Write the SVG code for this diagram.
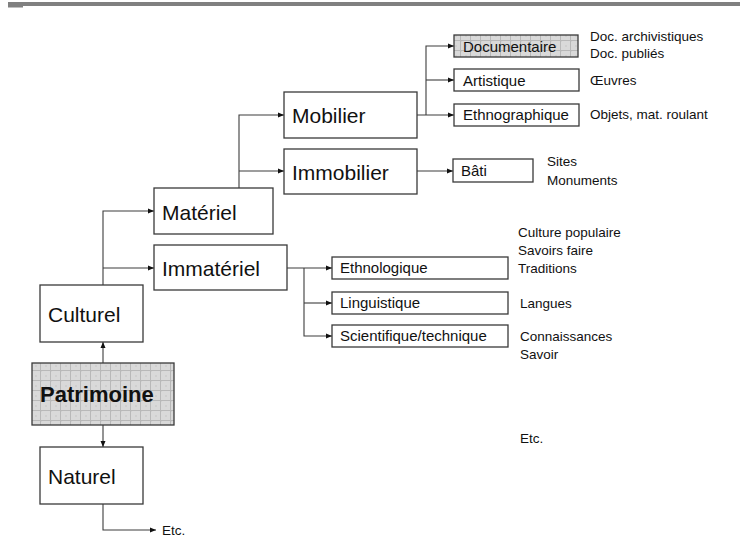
<svg xmlns="http://www.w3.org/2000/svg" width="746" height="548" viewBox="0 0 746 548">
  <defs>
    <pattern id="grid" width="10" height="10" patternUnits="userSpaceOnUse">
      <rect width="10" height="10" fill="#d9d9d9"/>
      <rect x="0" y="0" width="2" height="2" fill="#cfcfcf"/>
      <rect x="5" y="5" width="2" height="2" fill="#cfcfcf"/>
      <path d="M0 0.5H10M0.5 0V10" stroke="#b8b8b8" stroke-width="1"/>
    </pattern>
    <marker id="arr" viewBox="0 0 6 6" refX="6" refY="3" markerWidth="6" markerHeight="6" markerUnits="userSpaceOnUse" orient="auto">
      <path d="M0 0.5L6 3L0 5.5Z" fill="#111"/>
    </marker>
  </defs>
  <style>
    .box { fill: #fff; stroke: #3a3a3a; stroke-width: 1.3; }
    .shaded { fill: url(#grid); stroke: #3a3a3a; stroke-width: 1.3; }
    .link { fill: none; stroke: #3c3c3c; stroke-width: 1.1; }
    .arrow { marker-end: url(#arr); }
    text { font-family: "Liberation Sans", Arial, sans-serif; fill: #111; }
    .big { font-size: 21px; }
    .mid { font-size: 15px; }
    .note { font-size: 13.5px; }
    .title { font-size: 22px; font-weight: bold; }
  </style>

  <!-- page header rule -->
  <rect x="8" y="2" width="732" height="4" fill="#808080"/>
  <rect x="8" y="6" width="15" height="1.5" fill="#808080"/>

  <!-- connectors -->
  <g id="connectors">
    <path class="link arrow" d="M103 363V342"/>
    <path class="link arrow" d="M103 425V447"/>
    <path class="link arrow" d="M103 504V530H156"/>
    <path class="link arrow" d="M103 285V211H154"/>
    <path class="link arrow" d="M103 268H154"/>
    <path class="link arrow" d="M239 188V115H284"/>
    <path class="link arrow" d="M239 171H284"/>
    <path class="link arrow" d="M417 115H454"/>
    <path class="link arrow" d="M426 115V46H454"/>
    <path class="link arrow" d="M426 80H454"/>
    <path class="link arrow" d="M417 171H453"/>
    <path class="link arrow" d="M287 268H332"/>
    <path class="link arrow" d="M304 268V336H332"/>
    <path class="link arrow" d="M304 303H332"/>
  </g>

  <g id="patrimoine">
    <rect class="shaded" x="32" y="363" width="142" height="62"/>
    <text class="title" x="40" y="402">Patrimoine</text>
  </g>
  <g id="naturel">
    <rect class="box" x="40" y="447" width="103" height="57"/>
    <text class="big" x="48" y="484">Naturel</text>
  </g>
  <g id="naturel-etc">
    <text class="note" x="162" y="535">Etc.</text>
  </g>
  <g id="culturel">
    <rect class="box" x="40" y="285" width="103" height="57"/>
    <text class="big" x="48" y="322">Culturel</text>
  </g>
  <g id="materiel">
    <rect class="box" x="154" y="188" width="119" height="46"/>
    <text class="big" x="162" y="220">Matériel</text>
  </g>
  <g id="immateriel">
    <rect class="box" x="154" y="245" width="133" height="45"/>
    <text class="big" x="162" y="276">Immatériel</text>
  </g>
  <g id="mobilier">
    <rect class="box" x="284" y="92" width="133" height="46"/>
    <text class="big" x="292" y="123">Mobilier</text>
  </g>
  <g id="immobilier">
    <rect class="box" x="284" y="149" width="133" height="45"/>
    <text class="big" x="292" y="180">Immobilier</text>
  </g>

  <g id="documentaire">
    <rect class="shaded" x="454" y="35" width="124" height="22"/>
    <text class="mid" x="463" y="52">Documentaire</text>
    <text class="note" x="590" y="41">Doc. archivistiques</text>
    <text class="note" x="590" y="58">Doc. publiés</text>
  </g>
  <g id="artistique">
    <rect class="box" x="454" y="69" width="125" height="22"/>
    <text class="mid" x="463" y="86">Artistique</text>
    <text class="note" x="590" y="85">Œuvres</text>
  </g>
  <g id="ethnographique">
    <rect class="box" x="454" y="104" width="125" height="22"/>
    <text class="mid" x="463" y="120">Ethnographique</text>
    <text class="note" x="590" y="119">Objets, mat. roulant</text>
  </g>
  <g id="bati">
    <rect class="box" x="453" y="159" width="80" height="23"/>
    <text class="mid" x="461" y="176">Bâti</text>
    <text class="note" x="547" y="166">Sites</text>
    <text class="note" x="547" y="185">Monuments</text>
  </g>

  <g id="ethnologique">
    <rect class="box" x="332" y="257" width="176" height="22"/>
    <text class="mid" x="340" y="273">Ethnologique</text>
    <text class="note" x="518" y="237">Culture populaire</text>
    <text class="note" x="518" y="255">Savoirs faire</text>
    <text class="note" x="518" y="273">Traditions</text>
  </g>
  <g id="linguistique">
    <rect class="box" x="332" y="292" width="176" height="22"/>
    <text class="mid" x="340" y="308">Linguistique</text>
    <text class="note" x="520" y="308">Langues</text>
  </g>
  <g id="scientifique">
    <rect class="box" x="332" y="325" width="176" height="22"/>
    <text class="mid" x="340" y="341">Scientifique/technique</text>
    <text class="note" x="520" y="341">Connaissances</text>
    <text class="note" x="520" y="359">Savoir</text>
  </g>
  <g id="autres">
    <text class="note" x="520" y="443">Etc.</text>
  </g>
</svg>
